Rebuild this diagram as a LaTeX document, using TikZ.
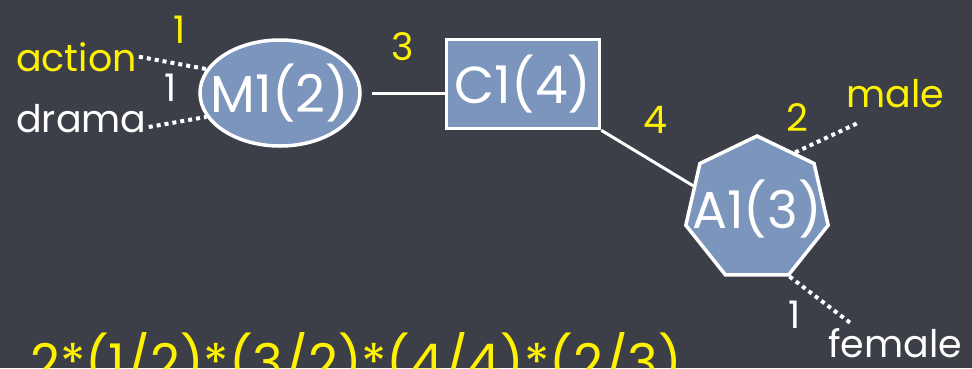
\documentclass[tikz,border=0pt]{standalone}
\usepackage{fontspec}
\setmainfont{Poppins}
\usetikzlibrary{shapes.geometric}
\definecolor{chalkbg}{HTML}{3C3F48}
\definecolor{chalkblue}{HTML}{7B95BD}
\definecolor{chalkyellow}{HTML}{FFF200}

\begin{document}
\begin{tikzpicture}[
  x=1pt, y=-1pt,
  entity/.style={draw=white, line width=3.5pt, fill=chalkblue, text=white,
    font=\fontsize{52}{58}\selectfont, inner sep=0pt},
  weight/.style={font=\fontsize{38}{44}\selectfont, inner sep=0pt},
  attr/.style={font=\fontsize{38}{44}\selectfont, inner sep=0pt, anchor=base west},
  link/.style={draw=white, line width=3pt},
  dotlink/.style={draw=white, line width=4pt, dash pattern=on 4pt off 4pt}
]
  \useasboundingbox (0,0) rectangle (972,368);
  \clip (0,0) rectangle (972,368);
  \fill[chalkbg] (0,0) rectangle (972,368);

  % entities
  \node[entity, ellipse, inner xsep=-14pt, minimum width=160pt, minimum height=106pt] (m1) at (280,93) {M1(2)};
  \node[entity, rectangle, minimum width=153pt, minimum height=89pt] (c1) at (523,84) {C1(4)};
  \node[entity, regular polygon, regular polygon sides=7, inner sep=-25pt, minimum size=146pt] (a1) at (757,209) {A1(3)};

  % attribute values
  \node[attr, text=chalkyellow] (action) at (16,71) {action};
  \node[attr, text=white] (drama) at (16,132) {drama};
  \node[attr, text=chalkyellow] (male) at (846,107) {male};
  \node[attr, text=white] (female) at (828,357) {female};

  % weights
  \node[weight, text=chalkyellow] (wact) at (180,30) {1};
  \node[weight, text=white] (wdrama) at (171,88) {1};
  \node[weight, text=chalkyellow] (wmc) at (403,47) {3};
  \node[weight, text=chalkyellow] (wca) at (655,120) {4};
  \node[weight, text=chalkyellow] (wmale) at (797,118) {2};
  \node[weight, text=white] (wfemale) at (795,315) {1};

  \node[font=\fontsize{52}{58}\selectfont, text=chalkyellow, anchor=base west, inner sep=0pt]
    (score) at (30,381) {2*(1/2)*(3/2)*(4/4)*(2/3)};

  % connectors
  \draw[link] ([xshift=10pt]m1.east) -- (c1.west |- m1.east);
  \draw[link] (c1.south east) -- (a1.160);
  \draw[dotlink] ([xshift=2pt]action.east) -- (m1.162);
  \draw[dotlink] ([xshift=2pt,yshift=5pt]drama.base east) -- (m1.198);
  \coordinate (maleend) at (860,122);
  \draw[dotlink] (a1.56) -- (maleend);
  \coordinate (femaleend) at (853,325);
  \draw[dotlink] (a1.corner 5) -- (femaleend);
\end{tikzpicture}
\end{document}
